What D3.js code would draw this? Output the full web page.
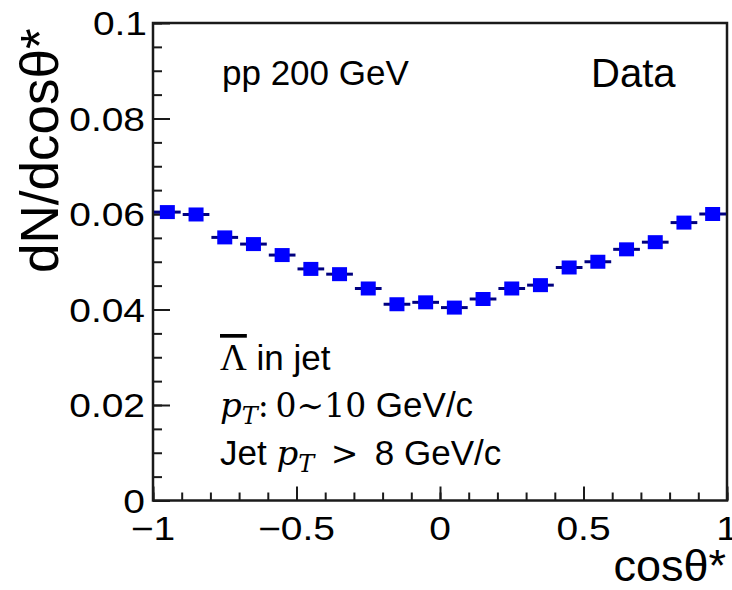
<!DOCTYPE html>
<html>
<head>
<meta charset="utf-8">
<script src="https://cdn.jsdelivr.net/npm/d3@7"></script>
<style>
  html, body { margin: 0; padding: 0; background: #fff; }
  svg { display: block; }
  .sans { font-family: "Liberation Sans", Arial, Helvetica, sans-serif; }
  .serif { font-family: "Liberation Serif", "Times New Roman", serif; }
  .math { font-family: "DejaVu Serif", "Liberation Serif", serif; }
</style>
</head>
<body>
<script>
// ---- data ----
const binCenters = [-0.95,-0.85,-0.75,-0.65,-0.55,-0.45,-0.35,-0.25,-0.15,-0.05,
                     0.05, 0.15, 0.25, 0.35, 0.45, 0.55, 0.65, 0.75, 0.85, 0.95];
const values = [0.0604,0.0599,0.0551,0.0537,0.0514,0.0485,0.0474,0.0444,0.0411,0.0415,
                0.0404,0.0422,0.0444,0.0451,0.0488,0.0500,0.0526,0.0541,0.0582,0.0600];
const binWidth = 0.1;
const xTickValues = [-1, -0.5, 0, 0.5, 1];
const xTickLabels = ["\u22121", "\u22120.5", "0", "0.5", "1"];
const yTickValues = [0, 0.02, 0.04, 0.06, 0.08, 0.1];
const yTickLabels = ["0", "0.02", "0.04", "0.06", "0.08", "0.1"];

const W = 732, H = 590;
const svg = d3.select("body").append("svg").attr("width", W).attr("height", H);

const x = d3.scaleLinear().domain([-1, 1]).range([153, 727]);
const y = d3.scaleLinear().domain([0, 0.1]).range([500.5, 23]);

const axisColor = "#1a1a1a";

// minor ticks
const xMinor = d3.range(-1, 1.0001, 0.1).map(v => +v.toFixed(2));
const yMinor = d3.range(0, 0.10001, 0.005).map(v => +v.toFixed(4));

const gx = svg.append("g").attr("transform", `translate(0,${y(0)})`);
gx.append("g").call(d3.axisBottom(x).tickValues(xMinor).tickSize(-8).tickFormat("")).call(g => g.select(".domain").remove());
gx.append("g").call(d3.axisBottom(x).tickValues(xTickValues).tickSize(-14).tickFormat("")).call(g => g.select(".domain").remove());
gx.selectAll("line").attr("stroke", axisColor).attr("stroke-width", 2);

const gy = svg.append("g").attr("transform", `translate(${x(-1)},0)`);
gy.append("g").call(d3.axisLeft(y).tickValues(yMinor).tickSize(-9).tickFormat("")).call(g => g.select(".domain").remove());
gy.append("g").call(d3.axisLeft(y).tickValues(yTickValues).tickSize(-17).tickFormat("")).call(g => g.select(".domain").remove());
gy.selectAll("line").attr("stroke", axisColor).attr("stroke-width", 2);

// frame
svg.append("rect")
  .attr("x", x(-1)).attr("y", y(0.1))
  .attr("width", x(1) - x(-1)).attr("height", y(0) - y(0.1))
  .attr("fill", "none").attr("stroke", axisColor).attr("stroke-width", 2.5);

// tick labels (slightly widened)
const sx = 1.18;
svg.append("g").selectAll("text").data(xTickValues).join("text")
  .attr("class", "sans")
  .attr("transform", d => `translate(${x(d)},540) scale(${sx},1)`)
  .attr("text-anchor", "middle")
  .attr("font-size", 33)
  .attr("fill", "#000")
  .text((d, i) => xTickLabels[i]);

svg.append("g").selectAll("text").data(yTickValues).join("text")
  .attr("class", "sans")
  .attr("transform", d => `translate(${d === 0.1 ? 147 : 145},${y(d) + 12}) scale(${sx},1)`)
  .attr("text-anchor", "end")
  .attr("font-size", 33)
  .attr("fill", "#000")
  .text((d, i) => yTickLabels[i]);

// axis titles
svg.append("text").attr("class", "sans")
  .attr("transform", "translate(58,273) rotate(-90)")
  .attr("text-anchor", "start").attr("font-size", 53).attr("fill", "#000")
  .text("dN/dcos\u03B8*");

svg.append("text").attr("class", "sans")
  .attr("x", 726).attr("y", 581)
  .attr("text-anchor", "end").attr("font-size", 45).attr("fill", "#000")
  .text("cos\u03B8*");

// data: horizontal bars (bin width) + square markers
const pts = binCenters.map((c, i) => ({c, v: values[i]}));
svg.append("g").selectAll("line").data(pts).join("line")
  .attr("x1", d => x(d.c - binWidth / 2) + 1)
  .attr("x2", d => x(d.c + binWidth / 2) - 1)
  .attr("y1", d => y(d.v)).attr("y2", d => y(d.v))
  .attr("stroke", "#000080").attr("stroke-width", 3);

svg.append("g").selectAll("rect").data(pts).join("rect")
  .attr("x", d => x(d.c) - 7.5).attr("y", d => y(d.v) - 7)
  .attr("width", 15).attr("height", 14)
  .attr("fill", "#0000ff");

// annotations
svg.append("text").attr("class", "sans")
  .attr("x", 222).attr("y", 85).attr("font-size", 35).attr("fill", "#000")
  .text("pp 200 GeV");
svg.append("text").attr("class", "sans")
  .attr("x", 591).attr("y", 87).attr("font-size", 40).attr("fill", "#000")
  .text("Data");

// line 1
const t1 = svg.append("text").attr("x", 220).attr("y", 370).attr("font-size", 35).attr("fill", "#000");
t1.append("tspan").attr("class", "serif").attr("font-size", 37).style("text-decoration", "overline").text("\u039B");
t1.append("tspan").attr("class", "sans").text(" in jet");

// line 2
const t2 = svg.append("text").attr("x", 220).attr("y", 417).attr("font-size", 35).attr("fill", "#000");
t2.append("tspan").attr("class", "math").attr("font-style", "italic").attr("font-size", 34).text("p");
t2.append("tspan").attr("class", "math").attr("font-style", "italic").attr("font-size", 24).attr("dy", 7).text("T");
t2.append("tspan").attr("class", "math").attr("font-size", 33).attr("dy", -7).text(":\u20090\u223C10");
t2.append("tspan").attr("class", "sans").text(" GeV/c");

// line 3
const t3 = svg.append("text").attr("x", 220).attr("y", 465).attr("font-size", 35).attr("fill", "#000");
t3.append("tspan").attr("class", "sans").text("Jet ");
t3.append("tspan").attr("class", "math").attr("font-style", "italic").attr("font-size", 34).text("p");
t3.append("tspan").attr("class", "math").attr("font-style", "italic").attr("font-size", 24).attr("dy", 7).text("T");
t3.append("tspan").attr("class", "math").attr("font-size", 33).attr("dy", -7).text("\u2002>\u2002");
t3.append("tspan").attr("class", "sans").text("8 GeV/c");
</script>
</body>
</html>
